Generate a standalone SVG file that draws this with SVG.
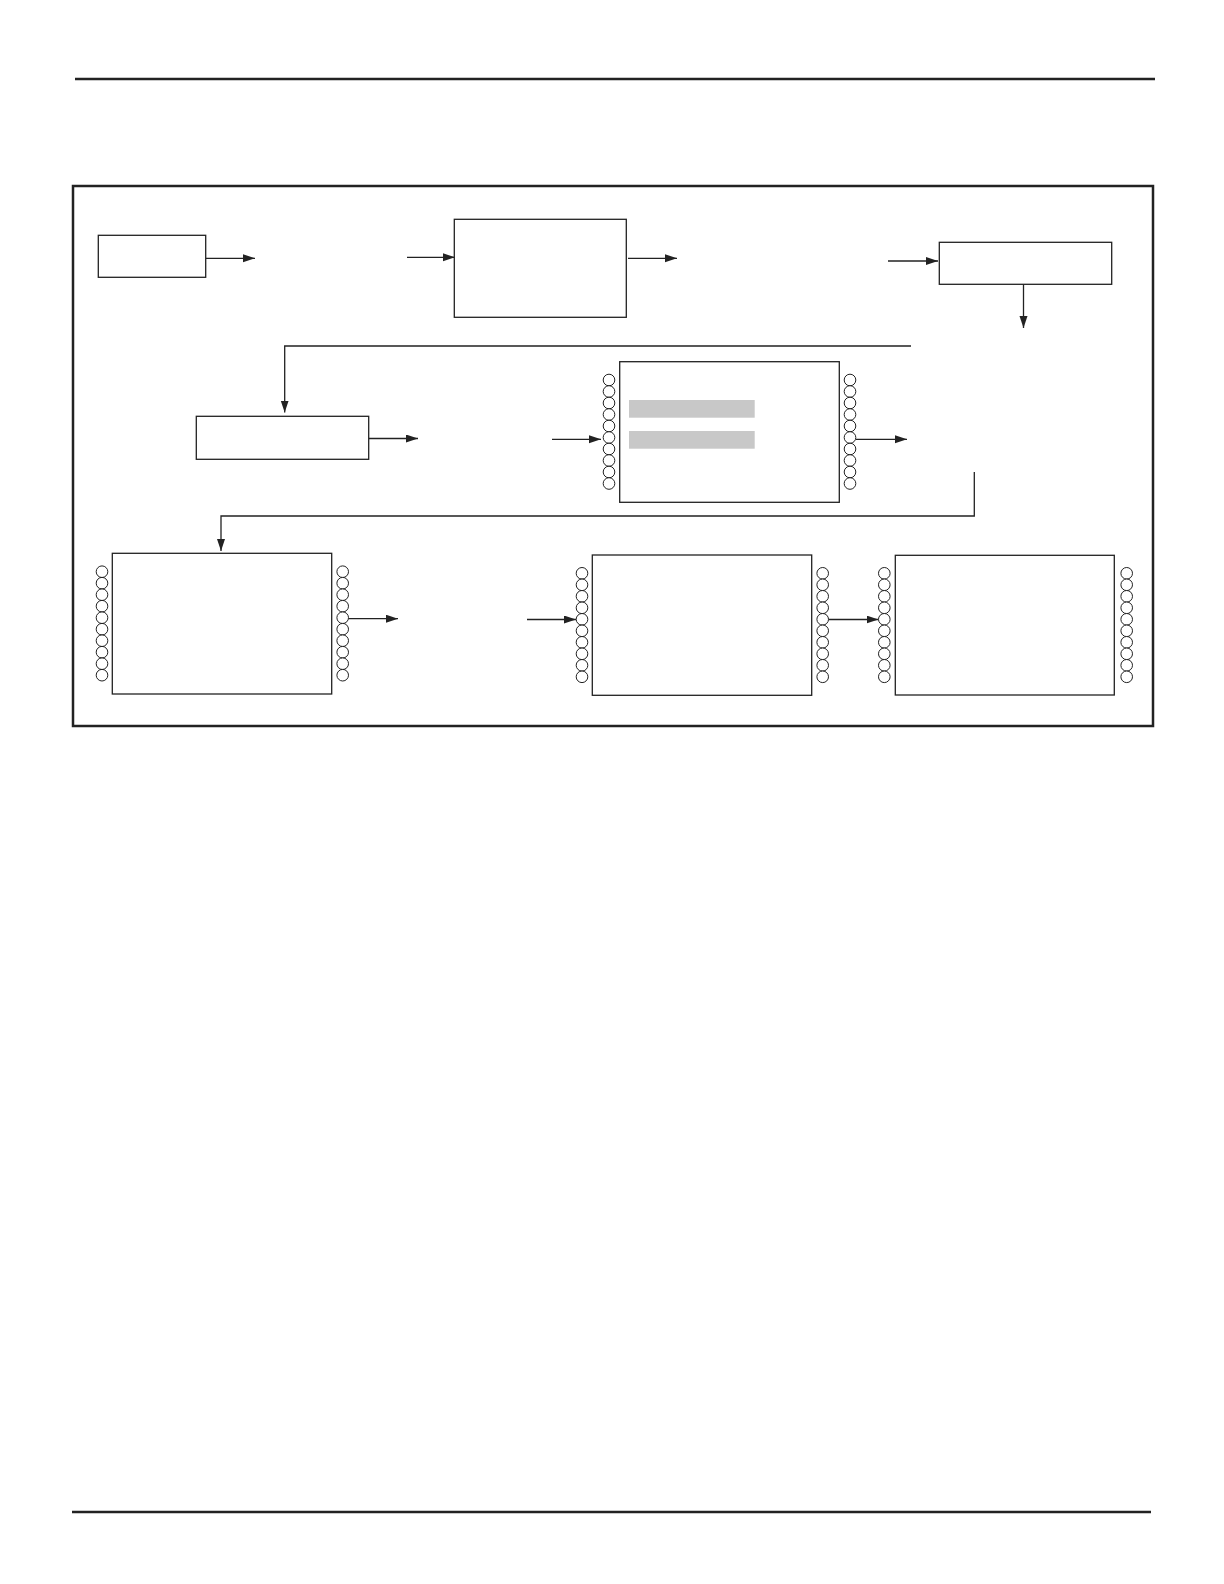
<svg xmlns="http://www.w3.org/2000/svg" xmlns:xlink="http://www.w3.org/1999/xlink" width="1224" height="1584" viewBox="0 0 1224 1584">
<style>
.rule{stroke:#222;stroke-width:2.5;fill:none}
.frame{stroke:#222;stroke-width:2.5;fill:none}
.box{stroke:#222;stroke-width:1.3;fill:#fff}
.bar{fill:#c8c8c8}
.conn{stroke:#222;stroke-width:1.3;fill:none}
.arr{marker-end:url(#ah)}
.coil circle{stroke:#222;stroke-width:1;fill:#fff}
</style>
<defs>
<marker id="ah" markerUnits="userSpaceOnUse" markerWidth="13" markerHeight="9" refX="12" refY="4" orient="auto">
<path d="M0,0 L12,4 L0,8 z" fill="#222"/>
</marker>
<g id="coilcol" class="coil">
<circle cx="0" cy="0" r="5.8"/><circle cx="0" cy="11.5" r="5.8"/><circle cx="0" cy="23" r="5.8"/><circle cx="0" cy="34.5" r="5.8"/><circle cx="0" cy="46" r="5.8"/><circle cx="0" cy="57.5" r="5.8"/><circle cx="0" cy="69" r="5.8"/><circle cx="0" cy="80.5" r="5.8"/><circle cx="0" cy="92" r="5.8"/><circle cx="0" cy="103.5" r="5.8"/>
</g>
</defs>
<rect width="1224" height="1584" fill="#fff"/>
<line class="rule" x1="75" y1="79" x2="1155" y2="79"/>
<line class="rule" x1="72" y1="1512" x2="1151" y2="1512"/>
<rect class="frame" x="73" y="186" width="1080" height="540"/>

<g id="connectors">
<line class="conn arr" x1="206" y1="258.3" x2="255" y2="258.3"/>
<line class="conn arr" x1="407" y1="257.3" x2="455" y2="257.3"/>
<line class="conn arr" x1="628" y1="258.3" x2="677" y2="258.3"/>
<line class="conn arr" x1="888" y1="261" x2="938" y2="261"/>
<line class="conn arr" x1="1023.5" y1="279" x2="1023.5" y2="328"/>
<polyline class="conn arr" points="911,346 284.7,346 284.7,412.5"/>
<line class="conn arr" x1="369" y1="438.5" x2="418" y2="438.5"/>
<line class="conn arr" x1="552" y1="439.3" x2="601" y2="439.3"/>
<line class="conn arr" x1="856" y1="439.3" x2="907" y2="439.3"/>
<polyline class="conn arr" points="974.3,472 974.3,516 221,516 221,551"/>
<line class="conn arr" x1="348.5" y1="618.7" x2="398" y2="618.7"/>
<line class="conn arr" x1="527" y1="619.5" x2="576" y2="619.5"/>
<line class="conn arr" x1="828.5" y1="619.5" x2="878.5" y2="619.5"/>
</g>

<g id="node1"><rect class="box" x="98.3" y="235.3" width="107.4" height="42"/></g>
<g id="node2"><rect class="box" x="454.3" y="219.3" width="172" height="98"/></g>
<g id="node3"><rect class="box" x="939.3" y="242.3" width="172.4" height="42"/></g>
<g id="node4"><rect class="box" x="196.3" y="416.3" width="172.4" height="43"/></g>
<g id="node5">
<rect class="box" x="619.7" y="361.7" width="219.6" height="140.6"/>
<rect class="bar" x="629" y="400" width="125.7" height="17.7"/>
<rect class="bar" x="629" y="431" width="125.7" height="17.7"/>
<use xlink:href="#coilcol" x="609" y="380"/>
<use xlink:href="#coilcol" x="850" y="380"/>
</g>
<g id="node6">
<rect class="box" x="112.3" y="553.3" width="219.4" height="140.7"/>
<use xlink:href="#coilcol" x="102" y="571.7"/>
<use xlink:href="#coilcol" x="342.7" y="571.7"/>
</g>
<g id="node7">
<rect class="box" x="592.3" y="555" width="219.4" height="140.3"/>
<use xlink:href="#coilcol" x="582" y="573.3"/>
<use xlink:href="#coilcol" x="822.7" y="573.3"/>
</g>
<g id="node8">
<rect class="box" x="895.3" y="555.3" width="219" height="139.7"/>
<use xlink:href="#coilcol" x="884.3" y="573.3"/>
<use xlink:href="#coilcol" x="1126.7" y="573.3"/>
</g>
</svg>
